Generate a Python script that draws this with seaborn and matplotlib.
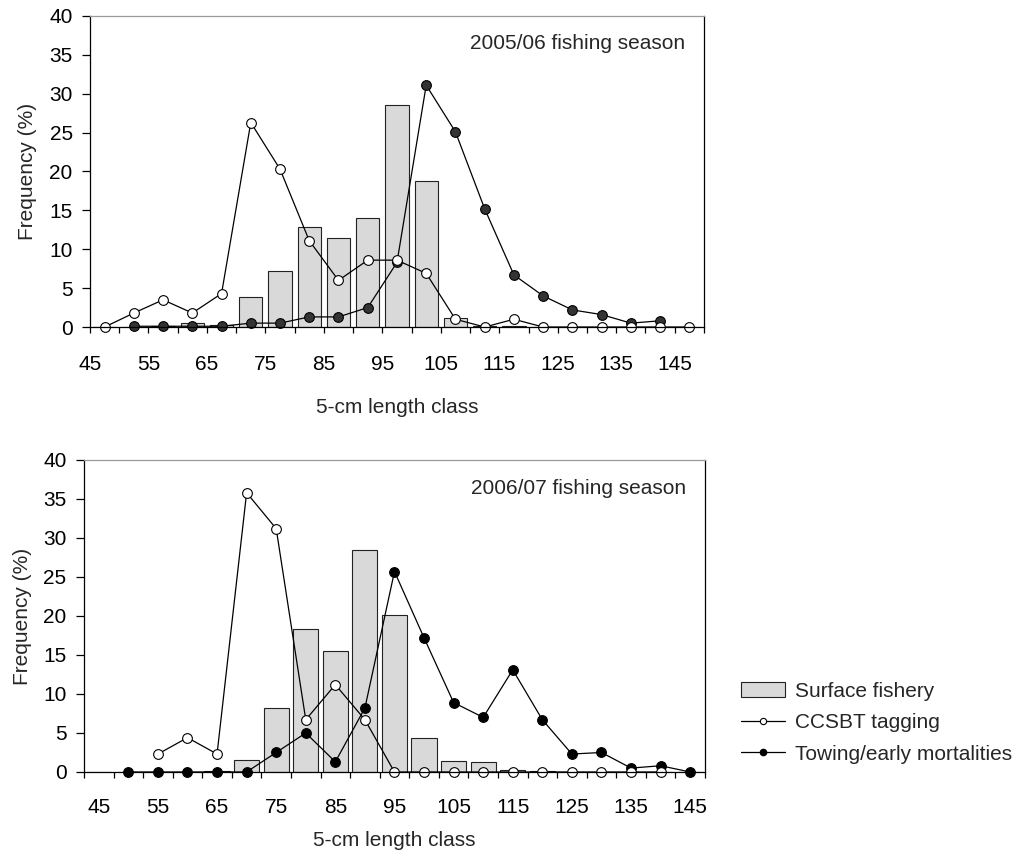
import matplotlib
matplotlib.use("Agg")
import matplotlib.pyplot as plt
from matplotlib.lines import Line2D
from matplotlib.patches import Patch
import seaborn as sns

# 2005/06 season: 5-cm classes, points plotted at the class centres
length_0506 = [47.5, 52.5, 57.5, 62.5, 67.5, 72.5, 77.5, 82.5, 87.5, 92.5, 97.5,
               102.5, 107.5, 112.5, 117.5, 122.5, 127.5, 132.5, 137.5, 142.5, 147.5]
surface_0506 = [0, 0, 0.1, 0.5, 0.3, 3.9, 7.2, 12.8, 11.5, 14.0, 28.6,
                18.8, 1.1, 0.1, 0.1, 0, 0, 0, 0, 0, 0]
tagging_0506 = [0, 1.8, 3.5, 1.8, 4.3, 26.3, 20.3, 11.1, 6.0, 8.6, 8.6,
                6.9, 1.0, 0, 1.0, 0, 0, 0, 0, 0, 0]
towing_len_0506 = [52.5, 57.5, 62.5, 67.5, 72.5, 77.5, 82.5, 87.5, 92.5, 97.5,
                   102.5, 107.5, 112.5, 117.5, 122.5, 127.5, 132.5, 137.5, 142.5]
towing_0506 = [0.1, 0.1, 0.1, 0.1, 0.5, 0.5, 1.3, 1.3, 2.5, 8.3,
               31.1, 25.1, 15.2, 6.7, 4.0, 2.2, 1.6, 0.5, 0.8]

# 2006/07 season: categories labelled by their lower bound
length_0607 = [45, 50, 55, 60, 65, 70, 75, 80, 85, 90, 95,
               100, 105, 110, 115, 120, 125, 130, 135, 140, 145]
surface_0607 = [0, 0, 0, 0, 0.1, 1.5, 8.2, 18.3, 15.5, 28.4, 20.1,
                4.3, 1.4, 1.3, 0.3, 0.1, 0, 0, 0, 0, 0]
tagging_len_0607 = [55, 60, 65, 70, 75, 80, 85, 90, 95, 100,
                    105, 110, 115, 120, 125, 130, 135, 140]
tagging_0607 = [2.3, 4.4, 2.3, 35.8, 31.2, 6.7, 11.2, 6.7, 0, 0,
                0, 0, 0, 0, 0, 0, 0, 0]
towing_len_0607 = [50, 55, 60, 65, 70, 75, 80, 85, 90, 95,
                   100, 105, 110, 115, 120, 125, 130, 135, 140, 145]
towing_0607 = [0, 0, 0, 0, 0, 2.5, 5.0, 1.3, 8.2, 25.7,
               17.2, 8.9, 7.0, 13.1, 6.7, 2.3, 2.5, 0.5, 0.8, 0]

tick_labels = [45, 55, 65, 75, 85, 95, 105, 115, 125, 135, 145]

sns.set_theme(style="ticks")
plt.rcParams['font.family'] = ['Liberation Sans', 'DejaVu Sans']
plt.rcParams['axes.linewidth'] = 0.9

BAR_FILL = '#d9d9d9'
BAR_EDGE = '#222222'
FS = 15

fig = plt.figure(figsize=(10.18, 8.59), dpi=100)
ax1 = fig.add_axes([0.0884, 0.6193, 0.6031, 0.3621])
ax2 = fig.add_axes([0.0825, 0.1013, 0.6100, 0.3632])


def draw_panel(ax, xb, surf, xtag, tag, xtow, tow, tow_fill, bar_w):
    sns.barplot(x=xb, y=surf, native_scale=True, width=bar_w, color=BAR_FILL,
                saturation=1, edgecolor=BAR_EDGE, linewidth=0.8, ax=ax)
    sns.lineplot(x=xtow, y=tow, color='black', linewidth=0.9, marker='o',
                 markersize=7, markerfacecolor=tow_fill, markeredgecolor='black',
                 markeredgewidth=0.8, errorbar=None, clip_on=False, ax=ax)
    sns.lineplot(x=xtag, y=tag, color='black', linewidth=0.9, marker='o',
                 markersize=7, markerfacecolor='white', markeredgecolor='black',
                 markeredgewidth=0.8, errorbar=None, clip_on=False, ax=ax)
    ax.set_ylim(0, 40)
    ax.set_yticks(range(0, 41, 5))
    ax.tick_params(axis='y', direction='out', length=5.5, width=0.9, pad=7,
                   labelsize=FS, colors='black')
    ax.tick_params(axis='x', which='both', direction='out', width=0.9,
                   labelsize=FS, colors='black')
    ax.spines['top'].set_color('#9a9a9a')
    ax.spines['right'].set_color('black')
    for s in ['left', 'bottom']:
        ax.spines[s].set_color('black')
    ax.set_ylabel('Frequency (%)', fontsize=FS)
    ax.set_xlabel('5-cm length class', fontsize=FS)


draw_panel(ax1, length_0506, surface_0506, length_0506, tagging_0506,
           towing_len_0506, towing_0506, '#333333', 0.8)
ax1.set_xlim(45, 150)
ax1.set_xticks(tick_labels)
ax1.set_xticklabels([str(t) for t in tick_labels])
ax1.set_xticks([50, 60, 70, 80, 90, 100, 110, 120, 130, 140, 150], minor=True)
ax1.tick_params(axis='x', which='both', length=4.5, pad=16)
ax1.text(0.97, 0.91, '2005/06 fishing season', transform=ax1.transAxes,
         ha='right', va='center', fontsize=FS)
ax1.xaxis.set_label_coords(0.5, -0.228)
ax1.yaxis.set_label_coords(-0.087, 0.5)

draw_panel(ax2, length_0607, surface_0607, tagging_len_0607, tagging_0607,
           towing_len_0607, towing_0607, 'black', 0.85)
ax2.set_xlim(42.5, 147.5)
ax2.set_xticks(tick_labels)
ax2.set_xticklabels([str(t) for t in tick_labels])
ax2.set_xticks([42.5 + 5 * k for k in range(22)], minor=True)
ax2.tick_params(axis='x', which='major', length=0, pad=19)
ax2.tick_params(axis='x', which='minor', length=4.5)
ax2.text(0.97, 0.91, '2006/07 fishing season', transform=ax2.transAxes,
         ha='right', va='center', fontsize=FS)
ax2.xaxis.set_label_coords(0.5, -0.19)
ax2.yaxis.set_label_coords(-0.083, 0.5)

handles = [
    Patch(facecolor=BAR_FILL, edgecolor=BAR_EDGE, linewidth=0.8),
    Line2D([], [], color='black', lw=0.9, marker='o', markersize=4.5,
           markerfacecolor='white', markeredgecolor='black', markeredgewidth=0.8),
    Line2D([], [], color='black', lw=0.9, marker='o', markersize=4.5,
           markerfacecolor='black', markeredgecolor='black'),
]
labels = ['Surface fishery', 'CCSBT tagging', 'Towing/early mortalities']
fig.legend(handles, labels, loc='upper left', bbox_to_anchor=(0.728, 0.206),
           frameon=False, fontsize=FS, handlelength=2.1, handletextpad=0.5,
           labelspacing=0.59, borderaxespad=0, borderpad=0)

fig.savefig('out.png', dpi=100)
